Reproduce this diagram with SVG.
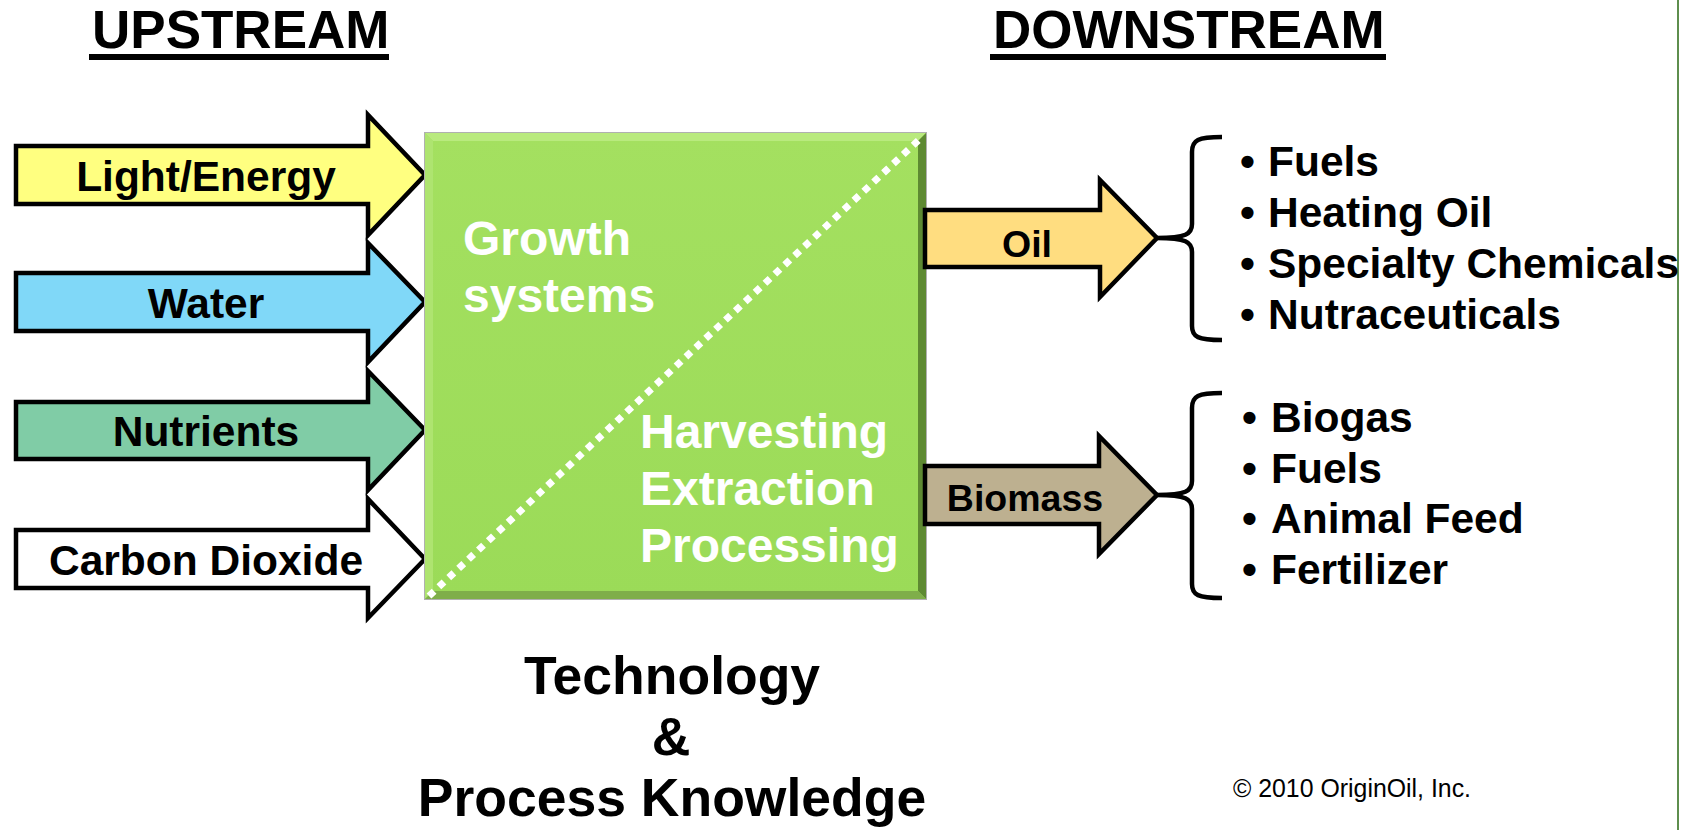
<svg xmlns="http://www.w3.org/2000/svg" width="1692" height="830" viewBox="0 0 1692 830">
<defs>
<style>
text{font-family:"Liberation Sans",Arial,sans-serif;font-weight:bold;fill:#000}
.hdr{font-size:53px}
.lbl{font-size:42.5px;text-anchor:middle}
.rlbl{font-size:37.5px;text-anchor:middle}
.inner{font-size:48px;fill:#fff}
.item{font-size:42.5px}
.bottom{font-size:53.5px;text-anchor:middle}
.arrow{stroke:#000;stroke-width:4.5;stroke-linejoin:miter}
.brace{fill:none;stroke:#000;stroke-width:4.5;stroke-linejoin:round}
</style>
<linearGradient id="boxg" x1="0" y1="0" x2="0" y2="1">
<stop offset="0" stop-color="#A4E060"/>
<stop offset="1" stop-color="#9BDB58"/>
</linearGradient>
</defs>
<rect width="1692" height="830" fill="#fff"/>
<line x1="1678" y1="0" x2="1678" y2="830" stroke="#5E8E4E" stroke-width="2"/>

<g id="headers">
<text class="hdr" x="92" y="48">UPSTREAM</text>
<rect x="89" y="54" width="300" height="6" fill="#000"/>
<text class="hdr" x="993" y="48">DOWNSTREAM</text>
<rect x="990" y="54" width="396" height="6" fill="#000"/>
</g>

<g id="light-energy">
<path class="arrow" fill="#FFFF80" d="M16,146 H368 V115 L425,175 L368,235 V204 H16 Z"/>
<text class="lbl" x="206" y="191">Light/Energy</text>
</g>
<g id="water">
<path class="arrow" fill="#80D8F8" d="M16,273 H368 V243 L425,302 L368,362 V331 H16 Z"/>
<text class="lbl" x="206" y="318">Water</text>
</g>
<g id="nutrients">
<path class="arrow" fill="#80CCA6" d="M16,402 H368 V371 L425,430 L368,490 V459 H16 Z"/>
<text class="lbl" x="206" y="446">Nutrients</text>
</g>
<g id="carbon-dioxide">
<path class="arrow" fill="#FFFFFF" d="M16,530 H368 V499 L425,559 L368,618 V588 H16 Z"/>
<text class="lbl" x="206" y="575">Carbon Dioxide</text>
</g>

<g id="process-box">
<rect x="424" y="132" width="503" height="468" fill="#B0B0B0"/>
<rect x="425" y="133" width="501" height="466" fill="url(#boxg)"/>
<polygon points="425,133 926,133 918,141 433,141" fill="#B9EA7E"/>
<polygon points="425,133 433,141 433,591 425,599" fill="#AEE470"/>
<polygon points="926,133 926,599 918,591 918,141" fill="#5E8A32"/>
<polygon points="425,599 926,599 918,591 433,591" fill="#7FAE4A"/>
<line x1="429" y1="596" x2="922" y2="137" stroke="#fff" stroke-width="7" stroke-dasharray="7 6.5"/>
<text class="inner" x="463" y="255">Growth</text>
<text class="inner" x="463" y="312">systems</text>
<text class="inner" x="640" y="448">Harvesting</text>
<text class="inner" x="640" y="505">Extraction</text>
<text class="inner" x="640" y="562">Processing</text>
</g>

<g id="oil">
<path class="arrow" fill="#FFDD80" d="M925,210 H1100 V180 L1157,238 L1100,297 V267 H925 Z"/>
<text class="rlbl" x="1027" y="257">Oil</text>
</g>
<g id="biomass">
<path class="arrow" fill="#BDB090" d="M925,466 H1099 V436 L1157,495 L1099,554 V524 H925 Z"/>
<text class="rlbl" x="1025" y="511">Biomass</text>
</g>

<g id="connectors">
<path class="brace" d="M1222,137 C1198,137 1192,140 1192,152 L1192,224 C1192,234 1186,238 1157,238 C1186,238 1192,242 1192,252 L1192,326 C1192,337 1198,340 1222,340"/>
<path class="brace" d="M1222,393 C1198,393 1192,396 1192,408 L1192,481 C1192,491 1186,495 1157,495 C1186,495 1192,499 1192,509 L1192,584 C1192,595 1198,598 1222,598"/>
</g>

<g id="oil-products">
<text class="item" x="1240" y="176">•</text><text class="item" x="1268" y="176">Fuels</text>
<text class="item" x="1240" y="227">•</text><text class="item" x="1268" y="227">Heating Oil</text>
<text class="item" x="1240" y="278">•</text><text class="item" x="1268" y="278">Specialty Chemicals</text>
<text class="item" x="1240" y="329">•</text><text class="item" x="1268" y="329">Nutraceuticals</text>
</g>
<g id="biomass-products">
<text class="item" x="1242" y="432">•</text><text class="item" x="1271" y="432">Biogas</text>
<text class="item" x="1242" y="483">•</text><text class="item" x="1271" y="483">Fuels</text>
<text class="item" x="1242" y="533">•</text><text class="item" x="1271" y="533">Animal Feed</text>
<text class="item" x="1242" y="584">•</text><text class="item" x="1271" y="584">Fertilizer</text>
</g>

<g id="technology">
<text class="bottom" x="672" y="694">Technology</text>
<text class="bottom" x="671" y="755">&amp;</text>
<text class="bottom" x="672" y="816">Process Knowledge</text>
</g>

<g id="copyright">
<text x="1233" y="797" font-size="26" textLength="238" lengthAdjust="spacingAndGlyphs" style="font-weight:normal">© 2010 OriginOil, Inc.</text>
</g>
</svg>
